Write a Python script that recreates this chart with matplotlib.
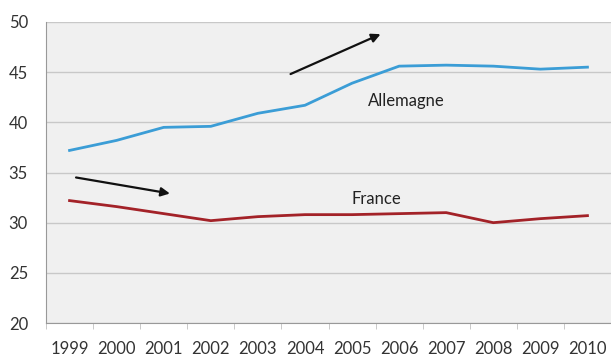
import numpy as np
import matplotlib.pyplot as plt

years = ['1999', '2000', '2001', '2002', '2003', '2004', '2005', '2006', '2007', '2008', '2009', '2010']
allemagne = [37.2, 38.2, 39.5, 39.6, 40.9, 41.7, 43.9, 45.6, 45.7, 45.6, 45.3, 45.5]
france = [32.2, 31.6, 30.9, 30.2, 30.6, 30.8, 30.8, 30.9, 31.0, 30.0, 30.4, 30.7]

plt.rcParams['font.family'] = ['Lato', 'DejaVu Sans']

fig = plt.figure(figsize=(6.11, 3.56), dpi=100)
ax = fig.add_axes([46 / 611, 1 - 323 / 356, 1 - 46 / 611, (323 - 22) / 356])
ax.set_facecolor('#f0f0f0')

x = np.arange(len(years))
ax.plot(x, allemagne, color='#3b9dd6', lw=2)
ax.plot(x, france, color='#a32228', lw=2)

ax.set_xlim(-0.5, len(years) - 0.5)
ax.set_ylim(20, 50)
ax.set_yticks(range(20, 51, 5))
ax.grid(axis='y', color='#c8c8c8', lw=1)
ax.set_axisbelow(True)

ax.set_xticks(x)
ax.set_xticklabels(years)
ax.set_xticks(np.arange(-0.5, len(years), 1), minor=True)
ax.tick_params(axis='x', which='major', length=0, pad=13, labelsize=12, colors='#333333')
ax.tick_params(axis='x', which='minor', length=4, color='#c0c0c0')
ax.tick_params(axis='y', length=0, pad=13, labelsize=12, colors='#333333')

for s in ['top', 'right']:
    ax.spines[s].set_visible(False)
for s in ['left', 'bottom']:
    ax.spines[s].set_color('#999999')

ax.annotate('', xy=(6.66, 48.9), xytext=(4.64, 44.7),
            arrowprops=dict(arrowstyle='-|>', color='#111111', lw=1.6, mutation_scale=13))
ax.annotate('', xy=(2.19, 32.86), xytext=(0.08, 34.55),
            arrowprops=dict(arrowstyle='-|>', color='#111111', lw=1.6, mutation_scale=13))

ax.text(7.15, 42.1, 'Allemagne', ha='center', va='center', fontsize=12, color='#222222')
ax.text(6.51, 32.4, 'France', ha='center', va='center', fontsize=12, color='#222222')

fig.savefig('out.png', dpi=100)
